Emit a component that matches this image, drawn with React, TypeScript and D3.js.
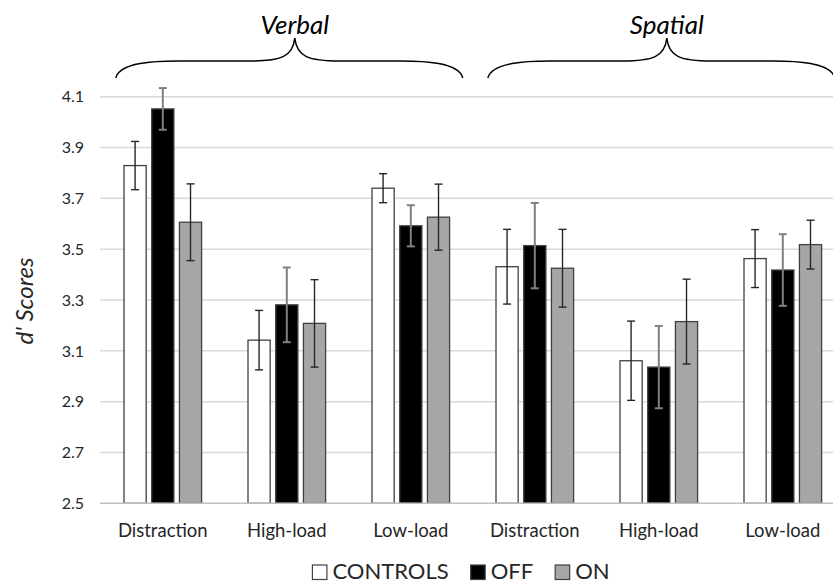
import React, { useRef, useEffect } from "react";
import * as d3 from "d3";

// d' por condición y grupo
const categories = ["Distraction", "High-load", "Low-load", "Distraction", "High-load", "Low-load"];
const groupNames = ["Verbal", "Spatial"];
const groupFirst = [0, 3];
const groupLast = [2, 5];
const seriesNames = ["CONTROLS", "OFF", "ON"];
const controls = [3.829, 3.142, 3.740, 3.431, 3.061, 3.463];
const controlsErr = [0.095, 0.117, 0.057, 0.147, 0.156, 0.114];
const off = [4.052, 3.281, 3.592, 3.514, 3.036, 3.418];
const offErr = [0.082, 0.147, 0.081, 0.168, 0.162, 0.141];
const on = [3.606, 3.208, 3.626, 3.425, 3.215, 3.518];
const onErr = [0.151, 0.172, 0.130, 0.153, 0.167, 0.096];
const yTicks = [2.5, 2.7, 2.9, 3.1, 3.3, 3.5, 3.7, 3.9, 4.1];

const fills = ["#ffffff", "#000000", "#a6a6a6"];
const errColors = ["#262626", "#808080", "#262626"];
const errWidths = [1.4, 2, 1.4];

const FONT = "Lato, 'Open Sans', sans-serif";

// llave horizontal con punta hacia arriba
const bracePath = (left, right, tip, yEnd, yMid, yTip) =>
  `M${left},${yEnd} C${left + 4},${yMid + 1} ${left + 40},${yMid} ${left + 62},${yMid}` +
  ` L${tip - 45},${yMid} C${tip - 14},${yMid} ${tip - 2},${yMid - 4} ${tip},${yTip}` +
  ` C${tip + 2},${yMid - 4} ${tip + 14},${yMid} ${tip + 45},${yMid}` +
  ` L${right - 62},${yMid} C${right - 40},${yMid} ${right - 4},${yMid + 1} ${right},${yEnd}`;

const DPrimeChart = ({ width = 833, height = 584 }) => {
  const ref = useRef(null);

  useEffect(() => {
    const container = ref.current;
    if (!container) return;
    d3.select(container).selectChildren().remove();
    const svg = d3.select(container).style("font-family", FONT);

    const values = [controls, off, on];
    const errors = [controlsErr, offErr, onErr];

    const x = d3.scaleBand().domain(d3.range(categories.length)).range([100.8, 844.8]);
    const bw = x.bandwidth();
    const xi = d3
      .scaleBand()
      .domain(seriesNames)
      .range([bw / 2 - 38.8, bw / 2 + 38.8])
      .paddingInner(0.2);
    const y = d3.scaleLinear().domain([2.5, 4.1]).range([503.3, 96.7]);

    // rejilla
    svg
      .append("g")
      .selectAll("line")
      .data(yTicks.slice(1))
      .enter()
      .append("line")
      .attr("x1", 100)
      .attr("x2", width)
      .attr("y1", (d) => y(d))
      .attr("y2", (d) => y(d))
      .style("stroke", "#d9d9d9")
      .style("stroke-width", 1.5);

    // etiquetas eje Y
    svg
      .append("g")
      .selectAll("text")
      .data(yTicks)
      .enter()
      .append("text")
      .attr("x", 84)
      .attr("y", (d) => y(d))
      .attr("dy", "0.36em")
      .attr("text-anchor", "end")
      .style("font-size", "16px")
      .style("fill", "#262626")
      .text((d) => d.toFixed(1));

    // barras
    seriesNames.forEach((s, si) => {
      const g = svg.append("g");
      g.selectAll("rect")
        .data(values[si])
        .enter()
        .append("rect")
        .attr("x", (d, i) => x(i) + xi(s))
        .attr("width", xi.bandwidth())
        .attr("y", (d) => y(d))
        .attr("height", (d) => y(2.5) - y(d))
        .style("fill", fills[si])
        .style("stroke", "#404040")
        .style("stroke-width", 1.3);
    });

    // eje X
    svg
      .append("line")
      .attr("x1", 100)
      .attr("x2", width)
      .attr("y1", y(2.5))
      .attr("y2", y(2.5))
      .style("stroke", "#bfbfbf")
      .style("stroke-width", 1.5);

    // barras de error
    seriesNames.forEach((s, si) => {
      const g = svg.append("g").style("stroke", errColors[si]).style("stroke-width", errWidths[si]);
      values[si].forEach((v, i) => {
        const cx = x(i) + xi(s) + xi.bandwidth() / 2;
        const lo = y(v - errors[si][i]);
        const hi = y(v + errors[si][i]);
        g.append("line").attr("x1", cx).attr("x2", cx).attr("y1", lo).attr("y2", hi);
        g.append("line").attr("x1", cx - 4).attr("x2", cx + 4).attr("y1", lo).attr("y2", lo);
        g.append("line").attr("x1", cx - 4).attr("x2", cx + 4).attr("y1", hi).attr("y2", hi);
      });
    });

    // etiquetas categorías
    svg
      .append("g")
      .selectAll("text")
      .data(categories)
      .enter()
      .append("text")
      .attr("x", (d, i) => x(i) + bw / 2)
      .attr("y", 537)
      .attr("text-anchor", "middle")
      .style("font-size", "18.5px")
      .style("fill", "#262626")
      .text((d) => d);

    // título eje Y
    svg
      .append("text")
      .attr("transform", "translate(33, 301) rotate(-90)")
      .attr("text-anchor", "middle")
      .style("font-size", "24px")
      .style("font-style", "italic")
      .style("fill", "#262626")
      .text("d' Scores");

    // llaves de grupo
    groupNames.forEach((name, gi) => {
      const left = x(groupFirst[gi]) + 15;
      const right = x(groupLast[gi]) + bw - 10;
      const tip = (x(groupFirst[gi]) + x(groupLast[gi]) + bw) / 2 + 8;
      svg
        .append("path")
        .attr("d", bracePath(left, right, tip, 78, 61, 38))
        .style("fill", "none")
        .style("stroke", "#000")
        .style("stroke-width", 1.5);
      svg
        .append("text")
        .attr("x", tip)
        .attr("y", 33.5)
        .attr("text-anchor", "middle")
        .style("font-size", "26px")
        .style("font-style", "italic")
        .style("fill", "#000")
        .text(name);
    });

    // leyenda
    const legend = svg.append("g");
    let cursor = 0;
    seriesNames.forEach((s, si) => {
      const item = legend.append("g").attr("transform", `translate(${cursor},0)`);
      item
        .append("rect")
        .attr("x", 0)
        .attr("y", 565)
        .attr("width", 14.5)
        .attr("height", 14.5)
        .style("fill", fills[si])
        .style("stroke", "#404040")
        .style("stroke-width", 1.2);
      const t = item
        .append("text")
        .attr("x", 20)
        .attr("y", 579)
        .style("font-size", "22px")
        .style("fill", "#262626")
        .text(s);
      cursor += 20 + t.node().getComputedTextLength() + 22;
    });
    const total = cursor - 22;
    legend.attr("transform", `translate(${461 - total / 2},0)`);
  }, [width, height]);

  return (
    <svg
      ref={ref}
      width={width}
      height={height}
      style={{ position: "absolute", left: 0, top: 0, background: "#fff" }}
    />
  );
};

export default function App() {
  return <DPrimeChart />;
}
